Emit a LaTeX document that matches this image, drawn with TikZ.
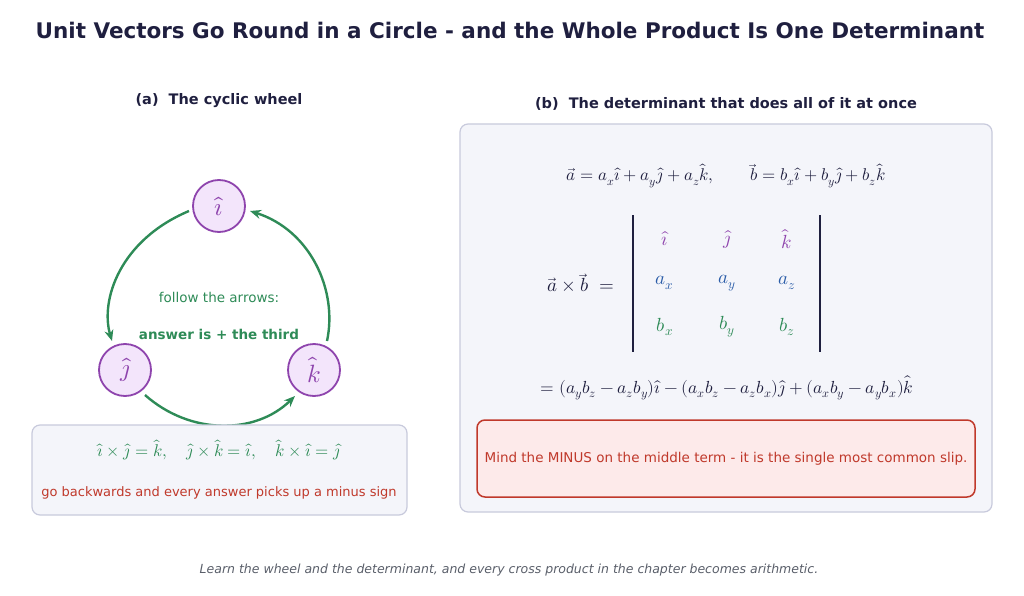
\documentclass[tikz,border=0pt]{standalone}
\usepackage{fontspec}
\setmainfont{DejaVu Sans}
\usepackage{unicode-math}
\setmathfont{Latin Modern Math}
\usetikzlibrary{arrows.meta}
\definecolor{navy}{HTML}{1F1F3F}
\definecolor{grn}{HTML}{2E8B57}
\definecolor{blu}{HTML}{2A5CA8}
\definecolor{pur}{HTML}{8E44AD}
\definecolor{pfill}{HTML}{F3E5FB}
\definecolor{panel}{HTML}{F4F5FA}
\definecolor{pedge}{HTML}{C8CADC}
\definecolor{rd}{HTML}{C0392B}
\definecolor{rfill}{HTML}{FDEAEA}
\definecolor{gry}{HTML}{5A5F6A}
\tikzset{
 unit/.style={circle,draw=pur,fill=pfill,line width=1.8pt,minimum size=52pt,inner sep=0pt,text=pur,font=\fontsize{25}{27}\selectfont},
 arc/.style={draw=grn,line width=2.4pt,-{Stealth[length=11pt,width=9pt]}},
 box/.style={draw=pedge,fill=panel,rounded corners=8pt,line width=1.2pt},
 ent/.style={font=\fontsize{19}{22}\selectfont},
}
\begin{document}
\begin{tikzpicture}[x=1pt,y=-1pt]
\useasboundingbox (0,0) rectangle (1024,596);
\node[font=\bfseries\fontsize{21.5}{25}\selectfont,text=navy] (title) at (510,30) {Unit Vectors Go Round in a Circle - and the Whole Product Is One Determinant};
\node[font=\bfseries\fontsize{14.5}{17}\selectfont,text=navy] (ha) at (219,101) {(a)\ \ The cyclic wheel};
\node[font=\bfseries\fontsize{14.5}{17}\selectfont,text=navy] (hb) at (726,104) {(b)\ \ The determinant that does all of it at once};
% wheel
\node[unit] (i) at (219,206) {$\hat{\imath}$};
\node[unit] (j) at (125,370) {$\hat{\jmath}$};
\node[unit] (k) at (314,370) {$\hat{k}$};
\draw[arc] (189,211) .. controls (120,240) and (100,300) .. (112,341);
\draw[arc] (145,395) .. controls (190,435) and (255,435) .. (295,396);
\draw[arc] (327,341) .. controls (338,290) and (310,230) .. (250,211);
\node[text=grn,font=\fontsize{13.5}{16}\selectfont] (t1) at (219,297) {follow the arrows:};
\node[text=grn,font=\bfseries\fontsize{13.5}{16}\selectfont] (t2) at (219,334) {answer is + the third};
% left box
\draw[box] (32,425) rectangle (407,515);
\node[text=grn,font=\fontsize{17}{20}\selectfont] (f1) at (219,450) {$\hat{\imath}\times\hat{\jmath}=\hat{k},\quad \hat{\jmath}\times\hat{k}=\hat{\imath},\quad \hat{k}\times\hat{\imath}=\hat{\jmath}$};
\node[text=rd,font=\fontsize{13}{15}\selectfont] (f2) at (219,493) {go backwards and every answer picks up a minus sign};
% right box
\draw[box] (460,124) rectangle (992,512);
\node[text=navy,font=\fontsize{17}{20}\selectfont] (ab) at (726,176) {$\vec{a}=a_x\hat{\imath}+a_y\hat{\jmath}+a_z\hat{k},\qquad \vec{b}=b_x\hat{\imath}+b_y\hat{\jmath}+b_z\hat{k}$};
\node[text=navy,font=\fontsize{19}{22}\selectfont] (lhs) at (581,283) {$\vec{a}\times\vec{b}\;=$};
\draw[navy,line width=1.8pt] (633,215) -- (633,352);
\draw[navy,line width=1.8pt] (820,215) -- (820,352);
\node[ent,text=pur] (m11) at (665,239) {$\hat{\imath}$};
\node[ent,text=pur] (m12) at (727,239) {$\hat{\jmath}$};
\node[ent,text=pur] (m13) at (787,239) {$\hat{k}$};
\node[ent,text=blu] (m21) at (665,283) {$a_x$};
\node[ent,text=blu] (m22) at (727,283) {$a_y$};
\node[ent,text=blu] (m23) at (787,283) {$a_z$};
\node[ent,text=grn] (m31) at (665,327) {$b_x$};
\node[ent,text=grn] (m32) at (727,327) {$b_y$};
\node[ent,text=grn] (m33) at (787,327) {$b_z$};
\node[text=navy,font=\fontsize{17.5}{20}\selectfont] (res) at (727,388) {$=(a_yb_z-a_zb_y)\hat{\imath}-(a_xb_z-a_zb_x)\hat{\jmath}+(a_xb_y-a_yb_x)\hat{k}$};
\draw[draw=rd,fill=rfill,rounded corners=8pt,line width=1.5pt] (477,420) rectangle (975,497);
\node[text=rd,font=\fontsize{13.5}{16}\selectfont] (warn) at (726,459) {Mind the MINUS on the middle term - it is the single most common slip.};
\node[text=gry,font=\itshape\fontsize{12.5}{15}\selectfont] (foot) at (509,570) {Learn the wheel and the determinant, and every cross product in the chapter becomes arithmetic.};
\end{tikzpicture}
\end{document}
